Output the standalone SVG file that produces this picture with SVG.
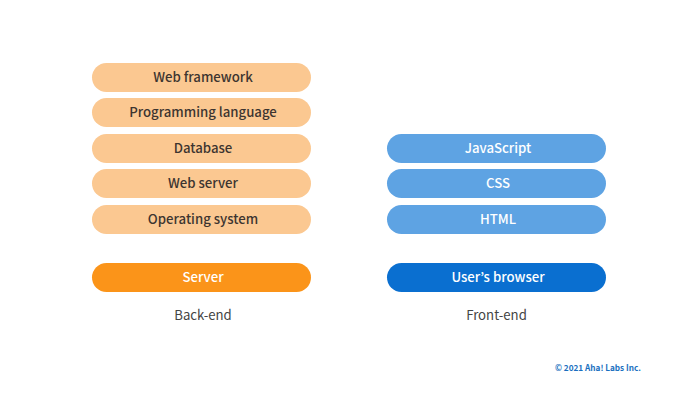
<svg xmlns="http://www.w3.org/2000/svg" width="700" height="400" viewBox="0 0 700 400">
<style>
text{font-family:"Noto Sans CJK JP","Noto Sans",sans-serif;text-anchor:middle}
.l{font-size:13.2px;font-weight:500;fill:#3d3530}
.w{font-size:13.2px;font-weight:500;fill:#fff}
.c{font-size:13.2px;font-weight:400;fill:#444}
.p{fill:#fbc891}.b{fill:#5ea3e3}
</style>
<rect width="700" height="400" fill="#fff"/>
<g id="web-framework"><rect class="p" x="92" y="63" width="219" height="29" rx="14.5"/><text class="l" x="203" y="82">Web framework</text></g>
<g id="programming-language"><rect class="p" x="92" y="98" width="219" height="29" rx="14.5"/><text class="l" x="203" y="117">Programming language</text></g>
<g id="database"><rect class="p" x="92" y="134" width="219" height="29" rx="14.5"/><text class="l" x="203" y="152.500">Database</text></g>
<g id="web-server"><rect class="p" x="92" y="169" width="219" height="29" rx="14.5"/><text class="l" x="203" y="188">Web server</text></g>
<g id="operating-system"><rect class="p" x="92" y="205" width="219" height="29" rx="14.5"/><text class="l" x="203" y="223.500">Operating system</text></g>
<g id="server"><rect fill="#fb9419" x="92" y="263" width="219" height="29" rx="14.5"/><text class="w" x="203" y="282">Server</text></g>
<g id="javascript"><rect class="b" x="387" y="134" width="219" height="29" rx="14.5"/><text class="w" x="498" y="152.500">JavaScript</text></g>
<g id="css"><rect class="b" x="387" y="169" width="219" height="29" rx="14.5"/><text class="w" x="498" y="188">CSS</text></g>
<g id="html"><rect class="b" x="387" y="205" width="219" height="29" rx="14.5"/><text class="w" x="498" y="223.500">HTML</text></g>
<g id="browser"><rect fill="#0a6fd0" x="387" y="263" width="219" height="29" rx="14.5"/><text class="w" x="498" y="282">User’s browser</text></g>
<text class="c" x="203" y="320">Back-end</text>
<text class="c" x="496.500" y="320">Front-end</text>
<text x="598" y="371" font-size="8.2" font-weight="700" fill="#1a6fc0">© 2021 Aha! Labs Inc.</text>
<g id="connectors"/>
</svg>
